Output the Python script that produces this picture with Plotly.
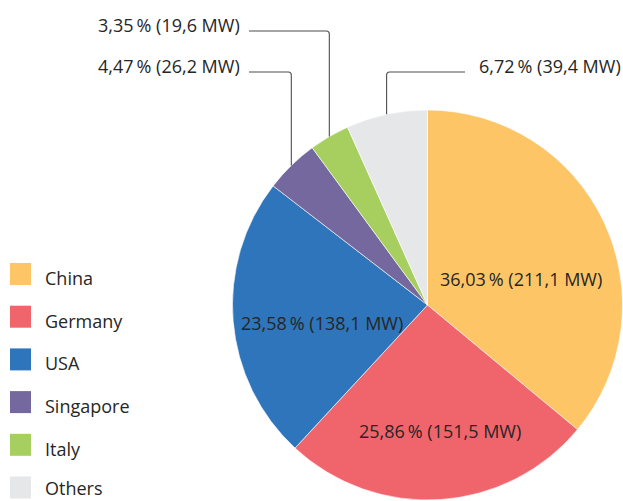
import math
import plotly.graph_objects as go

# ---- data ----
countries = ["China", "Germany", "USA", "Singapore", "Italy", "Others"]
mw_values = [211.1, 151.5, 138.1, 26.2, 19.6, 39.4]
pct_values = [36.03, 25.86, 23.58, 4.47, 3.35, 6.72]
colors = ["#FDC566", "#F0646C", "#2E75BB", "#74689F", "#A6CF60", "#E6E7E9"]

W, H = 623, 501
CX, CY, R = 427.5, 305.0, 195.0
FONT = "Open Sans"
TXT = "#262626"
LINE = "#4d4d4d"
FS = 18


def px(x):
    return x / W


def py(y):
    return 1 - y / H


def fmt(p, m):
    return f"{p:.2f}".replace(".", ",") + "\u2009% (" + f"{m:.1f}".replace(".", ",") + " MW)"


labels_text = [fmt(p, m) for p, m in zip(pct_values, mw_values)]

fig = go.Figure(go.Pie(
    labels=countries,
    values=mw_values,
    sort=False,
    direction="clockwise",
    rotation=0,
    marker=dict(colors=colors, line=dict(color="white", width=0.6)),
    textinfo="none",
    hoverinfo="label+value+percent",
    showlegend=False,
    domain=dict(x=[px(CX - R), px(CX + R)], y=[py(CY + R), py(CY - R)]),
))

annotations = []
shapes = []

# inside labels (layout positions in pixels)
inside_pos = {0: (521, 279), 1: (440, 431), 2: (322, 323)}
for i, (x, y) in inside_pos.items():
    annotations.append(dict(x=px(x), y=py(y), xref="paper", yref="paper",
                            text=labels_text[i], showarrow=False,
                            font=dict(family=FONT, size=FS, color=TXT),
                            xanchor="center", yanchor="middle"))

# outside labels with leader lines: (index, line y, horizontal end x, side)
outside = [(3, 72, 249, "left"), (4, 31, 249, "left"), (5, 72, 465, "right")]
total = sum(mw_values)
cum = [sum(mw_values[:i]) for i in range(len(mw_values))]
for i, ly, hx, side in outside:
    mid = (cum[i] + mw_values[i] / 2) / total * 2 * math.pi
    ax = CX + R * math.sin(mid)
    ay = CY - R * math.cos(mid)
    rc = 3
    sgn = -1 if side == "left" else 1
    path = (f"M {px(ax)} {py(ay)} L {px(ax)} {py(ly + rc)} "
            f"Q {px(ax)} {py(ly)} {px(ax + sgn * rc)} {py(ly)} L {px(hx)} {py(ly)}")
    shapes.append(dict(type="path", xref="paper", yref="paper", path=path,
                       line=dict(color=LINE, width=1.1)))
    if side == "left":
        annotations.append(dict(x=px(hx - 7), y=py(ly - 6), xref="paper", yref="paper",
                                text=labels_text[i], showarrow=False,
                                font=dict(family=FONT, size=FS, color=TXT),
                                xanchor="right", yanchor="middle"))
    else:
        annotations.append(dict(x=px(hx + 12), y=py(ly - 6), xref="paper", yref="paper",
                                text=labels_text[i], showarrow=False,
                                font=dict(family=FONT, size=FS, color=TXT),
                                xanchor="left", yanchor="middle"))

# legend (manual, square swatches)
for k, (name, col) in enumerate(zip(countries, colors)):
    top = 263 + k * 42.7
    shapes.append(dict(type="rect", xref="paper", yref="paper",
                       x0=px(10), x1=px(31), y0=py(top + 22), y1=py(top),
                       fillcolor=col, line=dict(width=0)))
    annotations.append(dict(x=px(43), y=py(min(top + 15, 488)), xref="paper", yref="paper",
                            text=name, showarrow=False,
                            font=dict(family=FONT, size=FS, color=TXT),
                            xanchor="left", yanchor="middle"))

fig.update_layout(
    width=W, height=H,
    margin=dict(l=0, r=0, t=0, b=0),
    paper_bgcolor="white",
    plot_bgcolor="white",
    annotations=annotations,
    shapes=shapes,
)

fig.write_html("out.html", config={"displayModeBar": False},
               post_script="document.body.style.margin='0';")
